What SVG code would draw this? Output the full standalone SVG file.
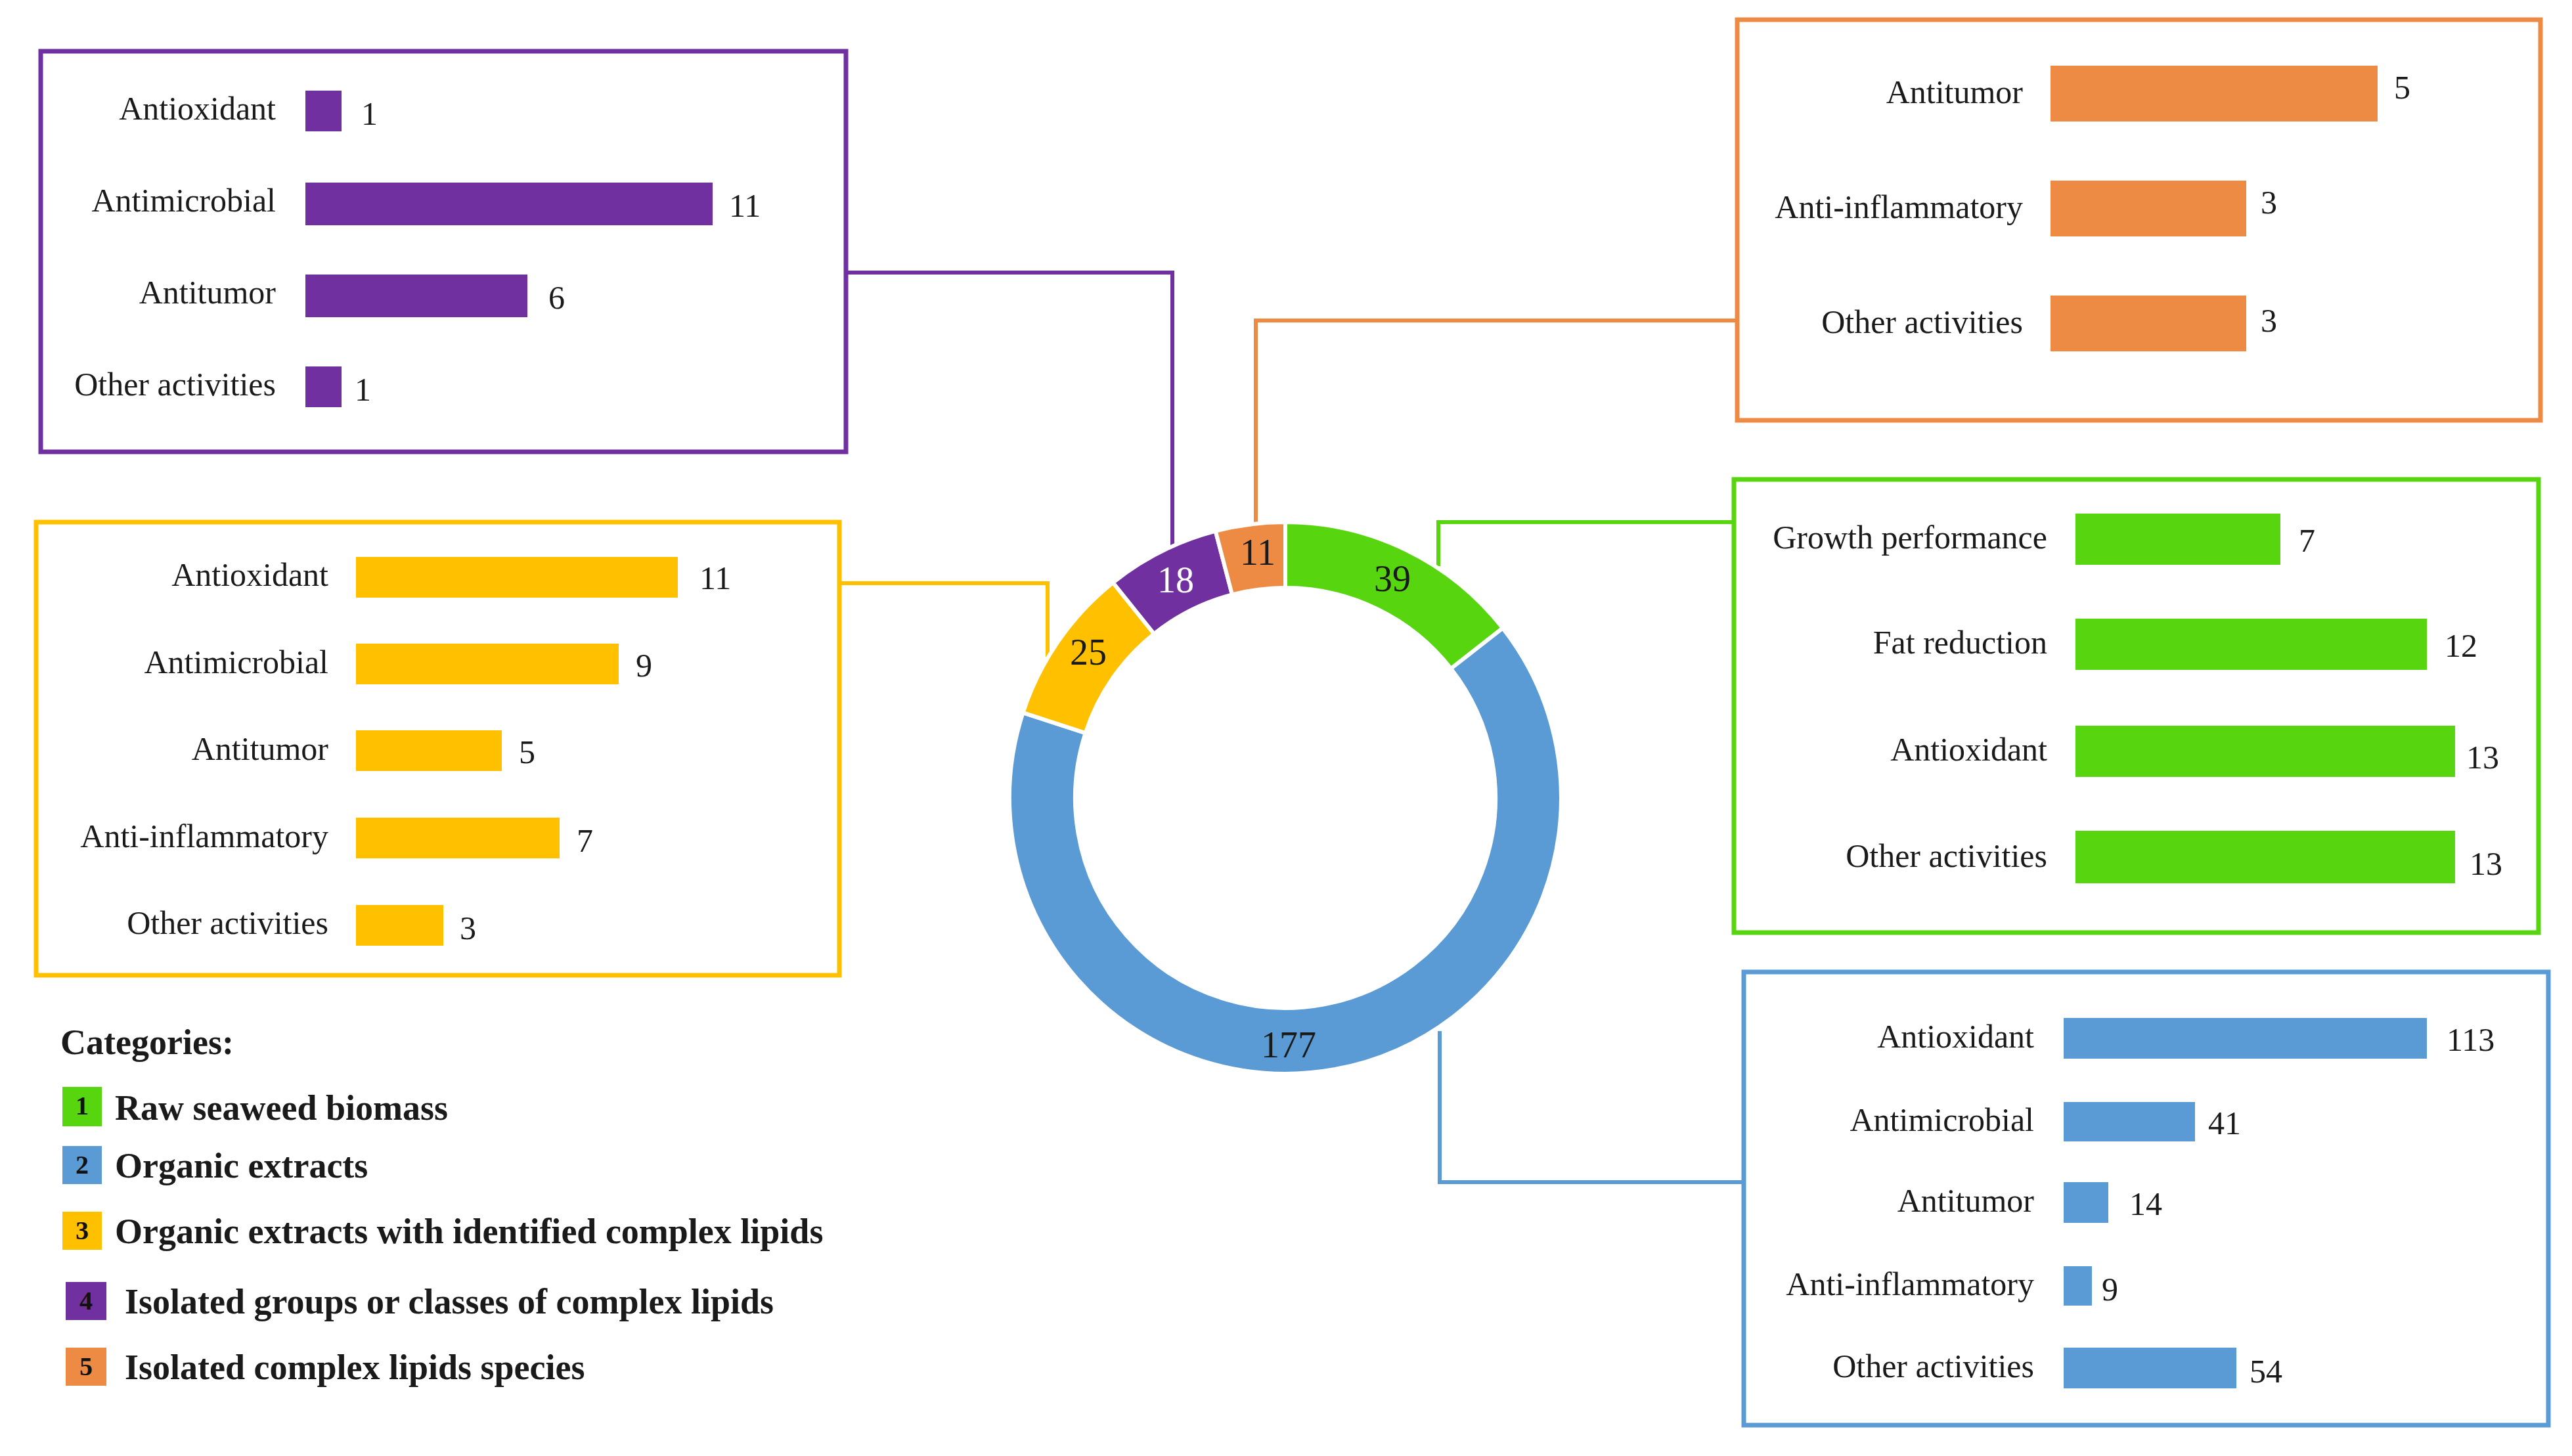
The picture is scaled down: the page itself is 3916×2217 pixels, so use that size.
<svg xmlns="http://www.w3.org/2000/svg" width="3916" height="2217" viewBox="0 0 3916 2217">
<style>
text{font-family:"Liberation Serif","Times New Roman",serif;font-size:50px;fill:#1a1a1a}
.l{text-anchor:end}
.box{fill:none;stroke-width:7}
.c{fill:none;stroke-width:6}
.d{font-size:56px;text-anchor:middle}
.lg{font-weight:bold;font-size:54px}
.n{font-weight:bold;font-size:40px;text-anchor:middle;fill:#111}
</style>
<rect width="3916" height="2217" fill="#fff"/>
<g id="connectors">
<polyline class="c" stroke="#7030A0" points="1288,415 1785,415 1785,850"/>
<polyline class="c" stroke="#ED8B45" points="2645,488 1912,488 1912,805"/>
<polyline class="c" stroke="#FFC000" points="1278,888 1595,888 1595,1000"/>
<polyline class="c" stroke="#57D50F" points="2640,795 2190,795 2190,862"/>
<polyline class="c" stroke="#5B9BD5" points="2655,1800 2192,1800 2192,1570"/>
</g>
<g id="donut" stroke="#fff" stroke-width="6">
<path fill="#57D50F" d="M1957,795 A420,420 0 0 1 2288,956.4 L2209.2,1018 A320,320 0 0 0 1957,895 Z"/>
<path fill="#5B9BD5" d="M2288,956.4 A420,420 0 1 1 1557.5,1085.2 L1652.6,1116.1 A320,320 0 1 0 2209.2,1018 Z"/>
<path fill="#FFC000" d="M1557.5,1085.2 A420,420 0 0 1 1694.6,887.1 L1757.1,965.1 A320,320 0 0 0 1652.6,1116.1 Z"/>
<path fill="#7030A0" d="M1694.6,887.1 A420,420 0 0 1 1850.7,808.7 L1876,905.4 A320,320 0 0 0 1757.1,965.1 Z"/>
<path fill="#ED8B45" d="M1850.7,808.7 A420,420 0 0 1 1957,795 L1957,895 A320,320 0 0 0 1876,905.4 Z"/>
</g>
<g id="donut-labels">
<text class="d" x="2120" y="900">39</text>
<text class="d" x="1962" y="1610">177</text>
<text class="d" x="1657" y="1012">25</text>
<text class="d" x="1790" y="902" style="fill:#fff">18</text>
<text class="d" x="1915" y="860">11</text>
</g>
<g id="purple">
<rect class="box" stroke="#7030A0" x="62" y="78" width="1226" height="610"/>
<g fill="#7030A0">
<rect x="465" y="138" width="55" height="62"/><rect x="465" y="278" width="620" height="65"/>
<rect x="465" y="418" width="338" height="65"/><rect x="465" y="558" width="55" height="62"/></g>
<text class="l" x="420" y="182">Antioxidant</text><text x="550" y="190">1</text>
<text class="l" x="420" y="322">Antimicrobial</text><text x="1110" y="330">11</text>
<text class="l" x="420" y="462">Antitumor</text><text x="835" y="470">6</text>
<text class="l" x="420" y="602">Other activities</text><text x="540" y="610">1</text>
</g>
<g id="orange">
<rect class="box" stroke="#ED8B45" x="2645" y="30" width="1223" height="610"/>
<g fill="#ED8B45">
<rect x="3122" y="100" width="498" height="85"/><rect x="3122" y="275" width="298" height="85"/>
<rect x="3122" y="450" width="298" height="85"/></g>
<text class="l" x="3080" y="157">Antitumor</text><text x="3645" y="150">5</text>
<text class="l" x="3080" y="332">Anti-inflammatory</text><text x="3442" y="325">3</text>
<text class="l" x="3080" y="507">Other activities</text><text x="3442" y="505">3</text>
</g>
<g id="yellow">
<rect class="box" stroke="#FFC000" x="55" y="795" width="1223" height="690"/>
<g fill="#FFC000">
<rect x="542" y="848" width="490" height="62"/><rect x="542" y="980" width="400" height="62"/>
<rect x="542" y="1112" width="222" height="62"/><rect x="542" y="1245" width="310" height="62"/>
<rect x="542" y="1378" width="133" height="62"/></g>
<text class="l" x="500" y="892">Antioxidant</text><text x="1065" y="897">11</text>
<text class="l" x="500" y="1025">Antimicrobial</text><text x="968" y="1030">9</text>
<text class="l" x="500" y="1157">Antitumor</text><text x="790" y="1162">5</text>
<text class="l" x="500" y="1290">Anti-inflammatory</text><text x="878" y="1297">7</text>
<text class="l" x="500" y="1422">Other activities</text><text x="700" y="1430">3</text>
</g>
<g id="green">
<rect class="box" stroke="#57D50F" x="2640" y="730" width="1225" height="690"/>
<g fill="#57D50F">
<rect x="3160" y="782" width="312" height="78"/><rect x="3160" y="942" width="535" height="78"/>
<rect x="3160" y="1105" width="578" height="78"/><rect x="3160" y="1265" width="578" height="80"/></g>
<text class="l" x="3117" y="835">Growth performance</text><text x="3500" y="840">7</text>
<text class="l" x="3117" y="995">Fat reduction</text><text x="3722" y="1000">12</text>
<text class="l" x="3117" y="1158">Antioxidant</text><text x="3755" y="1170">13</text>
<text class="l" x="3117" y="1320">Other activities</text><text x="3760" y="1332">13</text>
</g>
<g id="blue">
<rect class="box" stroke="#5B9BD5" x="2655" y="1480" width="1225" height="690"/>
<g fill="#5B9BD5">
<rect x="3142" y="1550" width="553" height="62"/><rect x="3142" y="1678" width="200" height="60"/>
<rect x="3142" y="1800" width="68" height="62"/><rect x="3142" y="1928" width="43" height="60"/>
<rect x="3142" y="2052" width="263" height="62"/></g>
<text class="l" x="3097" y="1595">Antioxidant</text><text x="3725" y="1600">113</text>
<text class="l" x="3097" y="1722">Antimicrobial</text><text x="3362" y="1727">41</text>
<text class="l" x="3097" y="1845">Antitumor</text><text x="3242" y="1850">14</text>
<text class="l" x="3097" y="1972">Anti-inflammatory</text><text x="3200" y="1980">9</text>
<text class="l" x="3097" y="2097">Other activities</text><text x="3425" y="2105">54</text>
</g>
<g id="legend">
<text class="lg" x="92" y="1605">Categories:</text>
<rect x="95" y="1655" width="60" height="60" fill="#57D50F"/><text class="n" x="125" y="1697">1</text>
<text class="lg" x="175" y="1705">Raw seaweed biomass</text>
<rect x="95" y="1745" width="60" height="58" fill="#5B9BD5"/><text class="n" x="125" y="1787">2</text>
<text class="lg" x="175" y="1793">Organic extracts</text>
<rect x="95" y="1845" width="60" height="58" fill="#FFC000"/><text class="n" x="125" y="1887">3</text>
<text class="lg" x="175" y="1893">Organic extracts with identified complex lipids</text>
<rect x="100" y="1952" width="62" height="58" fill="#7030A0"/><text class="n" x="131" y="1994">4</text>
<text class="lg" x="190" y="2000">Isolated groups or classes of complex lipids</text>
<rect x="100" y="2052" width="62" height="58" fill="#ED8B45"/><text class="n" x="131" y="2094">5</text>
<text class="lg" x="190" y="2100">Isolated complex lipids species</text>
</g>
</svg>
